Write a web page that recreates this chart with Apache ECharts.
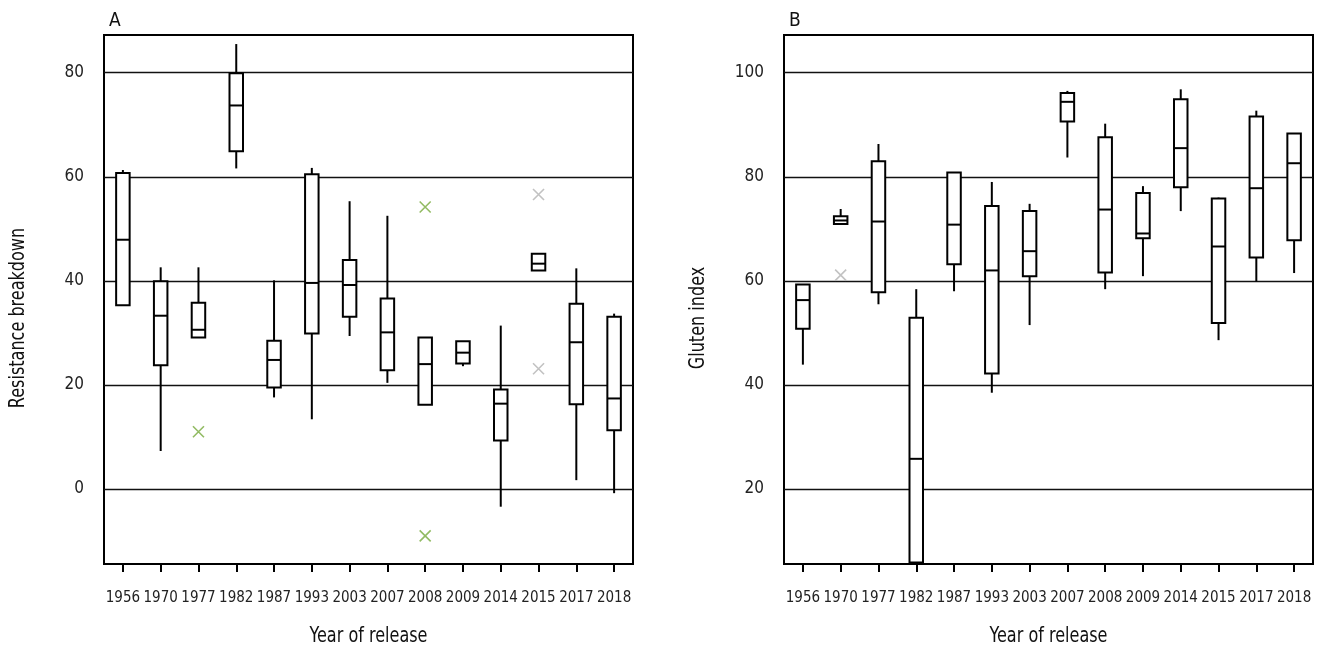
<!DOCTYPE html>
<html>
<head>
<meta charset="utf-8">
<title>Resistance breakdown and gluten index by year of release</title>
<script src="https://cdn.jsdelivr.net/npm/echarts@6/dist/echarts.min.js"></script>
<style>
  html, body { margin: 0; padding: 0; background: #fff; }
  #chart { width: 1323px; height: 651px; }
</style>
</head>
<body>
<div id="chart"></div>
<script>
// Release years shared by both panels
const years = ['1956', '1970', '1977', '1982', '1987', '1993', '2003', '2007', '2008', '2009', '2014', '2015', '2017', '2018'];

// Panel A: resistance breakdown, five-number summaries [min, Q1, median, Q3, max]
const resistanceStats = [
  [35.3, 35.3, 47.9, 60.7, 61.3],
  [7.3, 23.8, 33.3, 39.9, 42.6],
  [29.1, 29.1, 30.6, 35.8, 42.6],
  [61.6, 64.9, 73.7, 79.9, 85.5],
  [17.6, 19.5, 24.8, 28.5, 40.1],
  [13.4, 29.9, 39.6, 60.5, 61.7],
  [29.4, 33.1, 39.2, 44.0, 55.3],
  [20.4, 22.8, 30.1, 36.6, 52.5],
  [16.2, 16.2, 24.0, 29.1, 29.1],
  [23.6, 24.1, 26.2, 28.4, 28.4],
  [-3.4, 9.3, 16.4, 19.1, 31.4],
  [42.0, 42.0, 43.3, 45.2, 45.2],
  [1.7, 16.3, 28.2, 35.6, 42.4],
  [-0.8, 11.3, 17.4, 33.1, 33.7]
];
// Panel A outliers
const resistanceOutliersGreen = [['1977', 11.0], ['2008', 54.2], ['2008', -9.0]];
const resistanceOutliersGrey = [['2015', 56.6], ['2015', 23.1]];

// Panel B: gluten index, five-number summaries [min, Q1, median, Q3, max]
const glutenStats = [
  [43.9, 50.8, 56.3, 59.3, 59.3],
  [70.9, 70.9, 71.6, 72.4, 73.8],
  [55.5, 57.8, 71.4, 83.0, 86.3],
  [5.9, 5.9, 25.8, 52.9, 58.4],
  [58.0, 63.2, 70.8, 80.8, 80.8],
  [38.5, 42.2, 62.0, 74.4, 79.0],
  [51.5, 60.9, 65.7, 73.4, 74.8],
  [83.7, 90.6, 94.4, 96.1, 96.5],
  [58.4, 61.6, 73.7, 87.6, 90.2],
  [60.9, 68.2, 69.1, 76.9, 78.2],
  [73.4, 78.0, 85.5, 94.9, 96.8],
  [48.6, 51.9, 66.6, 75.8, 76.0],
  [59.9, 64.5, 77.8, 91.6, 92.7],
  [61.5, 67.8, 82.6, 88.3, 88.3]
];
// Panel B outliers
const glutenOutliersGrey = [['1970', 61.1]];

// Axis tick values and ranges
const resistanceTicks = [0, 20, 40, 60, 80];
const glutenTicks = [20, 40, 60, 80, 100];
const resistanceRange = [-14.41, 87.24];
const glutenRange = [5.59, 107.24];

const FONT = "'DejaVu Sans Condensed', 'Liberation Sans Narrow', 'Liberation Sans', sans-serif";
const BOX_WIDTH = 13.5;
const LINE = { stroke: '#000', lineWidth: 2 };
const CROSS = 'path://M0,0L10,10M10,0L0,10';

function renderBox(params, api) {
  const i = api.value(0);
  const pMin = api.coord([i, api.value(1)]);
  const pQ1 = api.coord([i, api.value(2)]);
  const pMed = api.coord([i, api.value(3)]);
  const pQ3 = api.coord([i, api.value(4)]);
  const pMax = api.coord([i, api.value(5)]);
  const cx = pMed[0];
  const h = BOX_WIDTH / 2;
  return {
    type: 'group',
    children: [
      { type: 'line', shape: { x1: cx, y1: pMax[1], x2: cx, y2: pQ3[1] }, style: LINE },
      { type: 'line', shape: { x1: cx, y1: pQ1[1], x2: cx, y2: pMin[1] }, style: LINE },
      { type: 'rect', shape: { x: cx - h, y: pQ3[1], width: BOX_WIDTH, height: pQ1[1] - pQ3[1] },
        style: { fill: '#fff', stroke: '#000', lineWidth: 2 } },
      { type: 'line', shape: { x1: cx - h, y1: pMed[1], x2: cx + h, y2: pMed[1] }, style: LINE }
    ]
  };
}

function boxData(stats) {
  return stats.map((s, i) => [i].concat(s));
}

function xAxisFor(gridIndex) {
  return {
    type: 'category',
    gridIndex: gridIndex,
    data: years,
    boundaryGap: true,
    axisLine: { show: false, onZero: false },
    axisTick: { show: true, alignWithLabel: true, length: 8, lineStyle: { color: '#000', width: 2 } },
    axisLabel: { interval: 0, margin: 27, color: '#222', fontSize: 15, fontFamily: FONT },
    splitLine: { show: false }
  };
}

function yAxisFor(gridIndex, range, ticks) {
  return {
    type: 'value',
    gridIndex: gridIndex,
    min: range[0],
    max: range[1],
    axisLine: { show: false },
    axisTick: { show: false, customValues: ticks },
    axisLabel: { customValues: ticks, margin: 20, color: '#222', fontSize: 17, fontFamily: FONT },
    splitLine: { show: true, lineStyle: { color: '#111', width: 1.3 } }
  };
}

function crossSeries(xIdx, data, color) {
  return {
    type: 'scatter',
    xAxisIndex: xIdx,
    yAxisIndex: xIdx,
    data: data,
    symbol: CROSS,
    symbolSize: 11,
    itemStyle: { color: 'rgba(0,0,0,0)', borderColor: color, borderWidth: 1.6 },
    z: 5
  };
}

function title(text, x, y, rotated) {
  return {
    type: 'text', x: x, y: y, rotation: rotated ? Math.PI / 2 : 0, scaleX: 0.85,
    style: { text: text, fontSize: 21, fontFamily: FONT, fill: '#111', align: 'center', verticalAlign: 'middle' }
  };
}

const chart = echarts.init(document.getElementById('chart'), null, { renderer: 'canvas' });

chart.setOption({
  animation: false,
  backgroundColor: '#fff',
  grid: [
    { left: 104, top: 35, width: 529, height: 529, show: true, borderColor: '#000', borderWidth: 2, backgroundColor: 'transparent' },
    { left: 784, top: 35, width: 529, height: 529, show: true, borderColor: '#000', borderWidth: 2, backgroundColor: 'transparent' }
  ],
  xAxis: [xAxisFor(0), xAxisFor(1)],
  yAxis: [yAxisFor(0, resistanceRange, resistanceTicks), yAxisFor(1, glutenRange, glutenTicks)],
  graphic: [
    { type: 'text', left: 109, top: 12, style: { text: 'A', fontSize: 19, fontFamily: FONT, fill: '#111' } },
    { type: 'text', left: 789, top: 12, style: { text: 'B', fontSize: 19, fontFamily: FONT, fill: '#111' } },
    title('Resistance breakdown', 19, 318, true),
    title('Gluten index', 699, 318, true),
    title('Year of release', 368.5, 637, false),
    title('Year of release', 1048.5, 637, false)
  ],
  series: [
    {
      type: 'custom',
      xAxisIndex: 0,
      yAxisIndex: 0,
      renderItem: renderBox,
      encode: { x: 0, y: [1, 2, 3, 4, 5] },
      data: boxData(resistanceStats),
      z: 3
    },
    {
      type: 'custom',
      xAxisIndex: 1,
      yAxisIndex: 1,
      renderItem: renderBox,
      encode: { x: 0, y: [1, 2, 3, 4, 5] },
      data: boxData(glutenStats),
      z: 3
    },
    crossSeries(0, resistanceOutliersGreen, '#77aa3c'),
    crossSeries(0, resistanceOutliersGrey, '#b3b3b3'),
    crossSeries(1, glutenOutliersGrey, '#b3b3b3')
  ]
});
</script>
</body>
</html>
